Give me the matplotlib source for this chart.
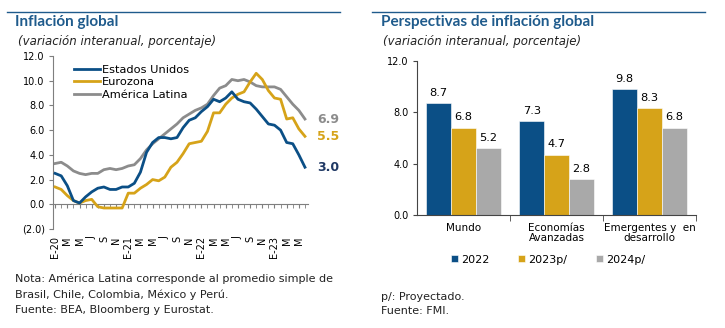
import matplotlib
matplotlib.use("Agg")
import matplotlib.pyplot as plt
from matplotlib.lines import Line2D
import numpy as np

# colours
BLUE = "#0b4f86"
GOLD = "#d6a319"
GRAY_LINE = "#8c8c8c"
GRAY_BAR = "#a9a9a9"
NAVY = "#1f3864"
TITLE_BLUE = "#1f5b8c"

# ---- left chart data: monthly, Jan 2020 - Jun 2023 ----
us = [2.5, 2.3, 1.5, 0.3, 0.1, 0.6, 1.0, 1.3, 1.4, 1.2, 1.2, 1.4,
      1.4, 1.7, 2.6, 4.2, 5.0, 5.4, 5.4, 5.3, 5.4, 6.2, 6.8, 7.0,
      7.5, 7.9, 8.5, 8.3, 8.6, 9.1, 8.5, 8.3, 8.2, 7.7, 7.1, 6.5,
      6.4, 6.0, 5.0, 4.9, 4.0, 3.0]
eurozone = [1.4, 1.2, 0.7, 0.3, 0.1, 0.3, 0.4, -0.2, -0.3, -0.3, -0.3, -0.3,
            0.9, 0.9, 1.3, 1.6, 2.0, 1.9, 2.2, 3.0, 3.4, 4.1, 4.9, 5.0,
            5.1, 5.9, 7.4, 7.4, 8.1, 8.6, 8.9, 9.1, 9.9, 10.6, 10.1, 9.2,
            8.6, 8.5, 6.9, 7.0, 6.1, 5.5]
latam = [3.3, 3.4, 3.1, 2.7, 2.5, 2.4, 2.5, 2.5, 2.8, 2.9, 2.8, 2.9,
         3.1, 3.2, 3.7, 4.4, 4.9, 5.3, 5.7, 6.1, 6.5, 7.0, 7.3, 7.6,
         7.8, 8.1, 8.8, 9.4, 9.6, 10.1, 10.0, 10.1, 9.9, 9.6, 9.5, 9.5,
         9.5, 9.3, 8.7, 8.1, 7.6, 6.9]
month_labels = ["E-20", "M", "M", "J", "S", "N",
                "E-21", "M", "M", "J", "S", "N",
                "E-22", "M", "M", "J", "S", "N",
                "E-23", "M", "M"]

# ---- right chart data ----
regions = ["Mundo", "Economías\nAvanzadas", "Emergentes y  en\ndesarrollo"]
years = ["2022", "2023p/", "2024p/"]
v2022 = [8.7, 7.3, 9.8]
v2023 = [6.8, 4.7, 8.3]
v2024 = [5.2, 2.8, 6.8]

W, H = 725, 328
fig = plt.figure(figsize=(W / 100, H / 100), dpi=100)


def px_axes(left, top, right, bottom):
    return fig.add_axes([left / W, 1 - bottom / H, (right - left) / W, (bottom - top) / H])


def fmt(v):
    return f"({abs(v):.1f})" if v < 0 else f"{v:.1f}"


# top rules and titles
for x0, x1 in [(7, 340), (372, 705)]:
    fig.add_artist(Line2D([x0 / W, x1 / W], [1 - 12 / H] * 2, color=TITLE_BLUE, lw=1.0))

fig.text(15 / W, 1 - 22 / H, "Inflación global", fontsize=11, fontweight="bold",
         color=TITLE_BLUE, va="center", family="Lato")
fig.text(18 / W, 1 - 42 / H, "(variación interanual, porcentaje)", fontsize=8.5,
         style="italic", color="#222222", va="center")
fig.text(381 / W, 1 - 22 / H, "Perspectivas de inflación global", fontsize=11,
         fontweight="bold", color=TITLE_BLUE, va="center", family="Lato")
fig.text(383 / W, 1 - 42 / H, "(variación interanual, porcentaje)", fontsize=8.5,
         style="italic", color="#222222", va="center")

# ---- left: lines ----
ax = px_axes(53, 56, 308, 229)
ax.spines["bottom"].set_position(("data", 0))
x = np.arange(len(us))
ax.plot(x, latam, color=GRAY_LINE, lw=2.0, label="América Latina", zorder=2)
ax.plot(x, eurozone, color=GOLD, lw=2.0, label="Eurozona", zorder=3)
ax.plot(x, us, color=BLUE, lw=2.0, label="Estados Unidos", zorder=4)
ax.set_xlim(-0.35, len(us) - 0.5)
ax.set_ylim(-2, 12)
ax.set_yticks(np.arange(-2, 12.1, 2))
ax.set_yticklabels([fmt(v) for v in np.arange(-2, 12.1, 2)])
ax.set_xticks(x[::2])
ax.set_xticklabels(month_labels)
ax.set_xticks(x[1::2], minor=True)
for s in ["top", "right"]:
    ax.spines[s].set_visible(False)
ax.spines["left"].set_color("#7f7f7f")
ax.spines["bottom"].set_color("#7f7f7f")
ax.tick_params(axis="y", length=3, color="#7f7f7f", labelsize=7, pad=3)
ax.tick_params(axis="x", which="both", length=3, color="#7f7f7f", direction="out")
ax.tick_params(axis="x", which="major", labelsize=7, pad=20, labelrotation=90)
for t in ax.get_xticklabels():
    t.set_va("top")
ax.patch.set_alpha(0)

handles, labels = ax.get_legend_handles_labels()
order = [2, 1, 0]
ax.legend([handles[i] for i in order], [labels[i] for i in order], loc="upper left",
          bbox_to_anchor=(0.06, 0.98), frameon=False, fontsize=8.2, handlelength=2.3,
          handletextpad=0.15, labelspacing=0.2, borderpad=0)

for series, col in [(latam, GRAY_LINE), (eurozone, GOLD), (us, NAVY)]:
    ax.annotate(f"{series[-1]:.1f}", xy=(x[-1], series[-1]), xytext=(9, 0),
                textcoords="offset points", va="center", ha="left", fontsize=9,
                fontweight="bold", color=col, annotation_clip=False)

# ---- right: bars ----
bx = px_axes(417, 61, 696, 215)
xi = np.arange(len(regions))
bw = 0.8 / 3
for k, (vals, col, lab) in enumerate([(v2022, BLUE, years[0]), (v2023, GOLD, years[1]),
                                      (v2024, GRAY_BAR, years[2])]):
    bars = bx.bar(xi + (k - 1) * bw, vals, bw, color=col, label=lab,
                  edgecolor="white", linewidth=0.4)
    bx.bar_label(bars, labels=[f"{v:.1f}" for v in vals], padding=4, fontsize=8.2)
bx.set_xlim(-0.5, 2.5)
bx.set_ylim(0, 12)
bx.set_yticks([0, 4, 8, 12])
bx.set_yticklabels([f"{v:.1f}" for v in [0, 4, 8, 12]])
bx.set_xticks(xi)
bx.set_xticklabels(regions, fontsize=7.5, linespacing=1.0)
bx.set_xticks([0.5, 1.5, 2.5], minor=True)
bx.tick_params(axis="x", which="major", length=0, pad=6)
bx.tick_params(axis="x", which="minor", length=4, color="#444444")
bx.tick_params(axis="y", length=3, labelsize=7, pad=3, color="#444444")
for s in ["top", "right"]:
    bx.spines[s].set_visible(False)
bx.spines["left"].set_color("#444444")
bx.spines["bottom"].set_color("#444444")
bx.patch.set_alpha(0)
bx.legend(loc="center", bbox_to_anchor=(0.47, -0.29), ncol=3, frameon=False,
          fontsize=8, handlelength=0.6, handleheight=0.6, handletextpad=0.3,
          columnspacing=2.6, borderpad=0)

# notes
note_kw = dict(fontsize=8.0, color="#222222", va="center")
fig.text(15 / W, 1 - 279 / H, "Nota: América Latina corresponde al promedio simple de", **note_kw)
fig.text(15 / W, 1 - 295 / H, "Brasil, Chile, Colombia, México y Perú.", **note_kw)
fig.text(15 / W, 1 - 310 / H, "Fuente: BEA, Bloomberg y Eurostat.", **note_kw)
fig.text(381 / W, 1 - 297 / H, "p/: Proyectado.", **note_kw)
fig.text(381 / W, 1 - 311 / H, "Fuente: FMI.", **note_kw)

fig.savefig("out.png", dpi=100)
